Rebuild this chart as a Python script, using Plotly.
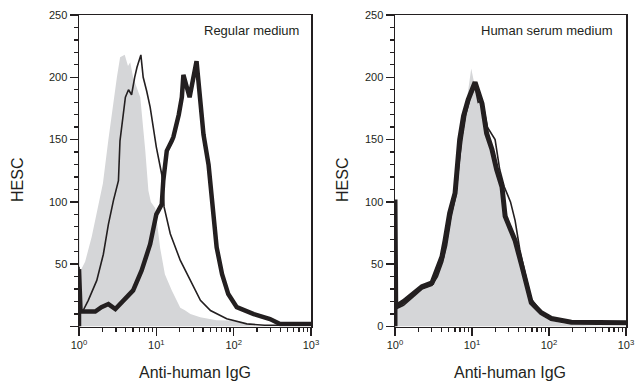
import plotly.graph_objects as go

# ---------------- data (intensity, count) ----------------
# Left panel: Regular medium
left_ctrl_x = [1, 1.02, 1.05, 1.2, 1.46, 1.78, 2.04, 2.4, 2.75, 3.09, 3.4, 3.9, 4.3, 4.6, 5.0, 5.6, 6.2, 7.2, 7.9, 8.5, 9.7, 11.2, 12.9, 15.8, 20.4, 23.4, 27.6, 37, 60, 91, 135, 180, 1000]
left_ctrl_y = [198, 44, 45, 52, 72, 98, 115, 150, 178, 200, 216, 218, 209, 212, 200, 192, 184, 141, 109, 100, 95, 63, 42, 29, 15, 13, 10, 7.5, 5, 4.8, 2.4, 0.5, 0]

left_thin_x = [1, 1, 1.047, 1.135, 1.318, 1.698, 2.065, 2.399, 2.786, 2.985, 3.236, 3.388, 3.981, 4.365, 4.786, 5.248, 5.623, 6.310, 6.761, 7.499, 8.318, 9.120, 10, 11.75, 12.30, 12.59, 15.14, 20.42, 27.54, 37.15, 50.12, 81.28, 147.9, 251.2, 1000]
left_thin_y = [0, 48, 13, 13, 21, 37, 58, 82, 101, 109, 117, 149, 184, 190, 186, 200, 208, 218, 200, 189, 176, 160, 144, 122, 109, 96, 74.5, 53, 37, 21, 12.8, 6.2, 2.1, 1, 1]

left_thick_x = [1, 1, 1.047, 1.622, 1.950, 2.399, 2.951, 3.981, 5.012, 6.457, 8.318, 10, 11.75, 12.30, 13.65, 15.85, 16.60, 19.50, 21.38, 22.39, 26.92, 33.11, 37.15, 40.74, 47.32, 50.12, 52.48, 60.26, 70.79, 85.11, 109.6, 182.0, 295.1, 398.1, 1000]
left_thick_y = [0, 46, 12, 12, 15.5, 18, 14, 22, 29, 45, 66, 90, 98, 117, 141, 149, 152, 170, 184, 202, 184, 213, 184, 154, 130, 112, 98, 63.5, 42, 26, 15.5, 10, 6, 2, 2]

# Right panel: Human serum medium
right_ctrl_x = [1, 1.259, 1.738, 2.239, 3.020, 3.548, 4.169, 4.677, 5.370, 6.310, 7.079, 7.943, 8.913, 9.772, 10.72, 12.59, 15.85, 19.95, 25.12, 31.62, 39.81, 50.12, 63.10, 79.43, 100, 158.5, 316.2, 1000]
right_ctrl_y = [19, 20, 27, 31, 34, 44, 54, 68, 90, 115, 145, 168, 188, 207, 195, 180, 155, 130, 105, 80, 58, 35, 17, 9, 5, 2, 1, 0.5]

right_thick_x = [1, 1, 1.023, 1.288, 1.738, 2.239, 3.020, 3.467, 4.074, 4.467, 5.129, 6.026, 6.310, 6.607, 6.918, 7.762, 8.913, 10.96, 13.49, 15.49, 18.20, 20.89, 24.55, 26.92, 36.31, 44.67, 56.23, 58.88, 79.43, 107.2, 195.0, 1000]
right_thick_y = [0, 102, 16, 20, 27, 32, 35, 46, 56, 69, 91, 107, 120, 137, 150, 169, 182, 196, 179, 155, 142, 126, 112, 88.5, 69, 48, 24, 19, 11, 6.4, 3.5, 3]

right_thin_x = [1, 1, 1.023, 1.288, 1.738, 2.239, 3.020, 3.548, 4.169, 4.677, 5.370, 6.166, 6.761, 7.413, 8.318, 9.550, 10.96, 12.02, 13.49, 15.85, 19.95, 22.91, 26.30, 31.62, 36.31, 41.69, 50.12, 58.88, 79.43, 112.2, 199.5, 1000]
right_thin_y = [0, 95, 14, 17, 24, 30, 33, 40, 52, 65, 88, 105, 130, 150, 170, 185, 192, 180, 182, 160, 150, 126, 112, 100, 85, 62, 40, 22, 12, 6, 4, 3.5]

x_tickvals = [1, 10, 100, 1000]
x_ticktext = ["10<sup>0</sup>", "10<sup>1</sup>", "10<sup>2</sup>", "10<sup>3</sup>"]
x_minor = [2, 3, 4, 5, 6, 7, 8, 9, 20, 30, 40, 50, 60, 70, 80, 90, 200, 300, 400, 500, 600, 700, 800, 900]
y_tickvals = [0, 50, 100, 150, 200, 250]
y_ticktext_left = ["", "50", "100", "150", "200", "250"]
y_ticktext_right = ["0", "50", "100", "150", "200", "250"]
panel_titles = ["Regular medium", "Human serum medium"]
x_title = "Anti-human IgG"
y_title = "HESC"

# ---------------- styling ----------------
INK = "#231f20"
GRAY = "#d5d6d8"
FONT = "Liberation Sans, Arial, sans-serif"
W, H = 636, 385

fig = go.Figure()

def add_panel(ctrl_x, ctrl_y, thin_x, thin_y, thick_x, thick_y, xa, ya, thick_w):
    fig.add_trace(go.Scatter(x=ctrl_x, y=ctrl_y, mode="lines", fill="tozeroy",
                             fillcolor=GRAY, line=dict(width=0, color=GRAY),
                             xaxis=xa, yaxis=ya, showlegend=False, hoverinfo="skip"))
    fig.add_trace(go.Scatter(x=thick_x, y=thick_y, mode="lines",
                             line=dict(width=thick_w, color=INK),
                             xaxis=xa, yaxis=ya, showlegend=False))
    fig.add_trace(go.Scatter(x=thin_x, y=thin_y, mode="lines",
                             line=dict(width=1.6, color=INK),
                             xaxis=xa, yaxis=ya, showlegend=False))

add_panel(left_ctrl_x, left_ctrl_y, left_thin_x, left_thin_y, left_thick_x, left_thick_y, "x", "y", 4.5)
add_panel(right_ctrl_x, right_ctrl_y, right_thin_x, right_thin_y, right_thick_x, right_thick_y, "x2", "y2", 5.0)

def xaxis(domain, anchor):
    return dict(domain=domain, anchor=anchor, type="log", range=[0, 3],
                tickvals=x_tickvals, ticktext=x_ticktext,
                ticks="outside", ticklen=8, tickwidth=1.5, tickcolor=INK,
                showline=True, linecolor=INK, linewidth=1.5, mirror=True,
                showgrid=False, zeroline=False, automargin=False,
                tickfont=dict(family=FONT, size=11, color=INK),
                minor=dict(tickmode="array", tickvals=x_minor, ticks="outside",
                           ticklen=4, tickwidth=1.3, tickcolor=INK, showgrid=False))

def yaxis(anchor, ticktext):
    return dict(domain=[(H - 326.5) / H, (H - 15) / H], anchor=anchor, range=[0, 250],
                tickvals=y_tickvals, ticktext=ticktext,
                ticks="outside", ticklen=8, tickwidth=1.5, tickcolor=INK,
                showline=True, linecolor=INK, linewidth=1.5, mirror=True,
                showgrid=False, zeroline=False, automargin=False,
                tickfont=dict(family=FONT, size=11, color=INK),
                minor=dict(dtick=10, ticks="outside", ticklen=4, tickwidth=1.3,
                           tickcolor=INK, showgrid=False))

fig.update_layout(
    width=W, height=H,
    margin=dict(l=0, r=0, t=0, b=0, autoexpand=False),
    paper_bgcolor="white", plot_bgcolor="white",
    font=dict(family=FONT, color=INK),
    hovermode=False,
    xaxis=xaxis([79 / W, 311 / W], "y"),
    yaxis=yaxis("x", y_ticktext_left),
    xaxis2=xaxis([395 / W, 626 / W], "y2"),
    yaxis2=yaxis("x2", y_ticktext_right),
)

ann = [
    dict(text=panel_titles[0], x=301 / W, y=1 - 30 / H, xanchor="right", yanchor="middle"),
    dict(text=panel_titles[1], x=615 / W, y=1 - 30 / H, xanchor="right", yanchor="middle"),
]
for a in ann:
    a.update(xref="paper", yref="paper", showarrow=False,
             font=dict(family=FONT, size=13, color=INK))
    fig.add_annotation(**a)

for cx in (195, 510):
    fig.add_annotation(text=x_title, x=cx / W, y=1 - 372 / H, xref="paper", yref="paper",
                       xanchor="center", yanchor="middle", showarrow=False,
                       font=dict(family=FONT, size=16, color=INK))
for cx in (18, 343):
    fig.add_annotation(text=y_title, x=cx / W, y=1 - 180 / H, xref="paper", yref="paper",
                       xanchor="center", yanchor="middle", showarrow=False, textangle=-90,
                       font=dict(family=FONT, size=16, color=INK))

fig.write_html("out.html",
               config={"displayModeBar": False, "staticPlot": True},
               post_script="document.body.style.margin='0';document.body.style.padding='0';"
                           "document.documentElement.style.overflow='hidden';")
